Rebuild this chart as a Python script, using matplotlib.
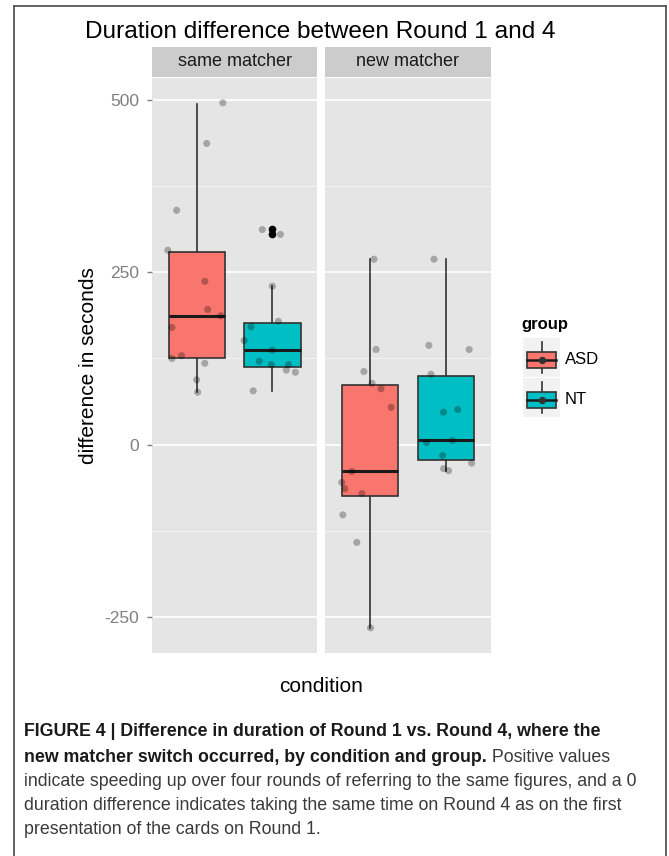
import matplotlib
matplotlib.use('Agg')
import matplotlib.pyplot as plt
from matplotlib import font_manager
from matplotlib.lines import Line2D
from matplotlib.patches import Rectangle
from matplotlib.text import Annotation

# ---------------- data ----------------
title = 'Duration difference between Round 1 and 4'
conditions = ['same matcher', 'new matcher']
groups = ['ASD', 'NT']
y_label = 'difference in seconds'
x_label = 'condition'
legend_title = 'group'
y_ticks = [-250, 0, 250, 500]
y_minor = [-125, 125, 375]

# box statistics: [lower whisker, Q1, median, Q3, upper whisker]
same_ASD_stats = [76, 125, 186, 280, 494]
same_NT_stats = [78, 112, 137, 177, 230]
new_ASD_stats = [-266, -74, -39, 87, 269]
new_NT_stats = [-38, -22, 6, 100, 269]
same_ASD_outliers = []
same_NT_outliers = [313, 305]
new_ASD_outliers = []
new_NT_outliers = []

# individual (jittered) observations
same_ASD_points = [496, 437, 340, 282, 237, 196, 187, 170, 125, 129, 118, 94, 76]
same_NT_points = [312, 305, 230, 179, 171, 151, 137, 121, 116, 116, 108, 105, 78]
new_ASD_points = [269, 138, 106, 89, 81, 54, -39, -55, -64, -71, -102, -142, -266]
new_NT_points = [269, 144, 138, 102, 47, 51, 3, 6, -16, -35, -38, -27]

# horizontal jitter of those observations (x units)
same_ASD_jitter = [0.19, 0.073, -0.146, -0.21, 0.059, 0.08, 0.175, -0.18, -0.18, -0.11, 0.059, 0.0, 0.007]
same_NT_jitter = [-0.073, 0.059, 0.0, 0.044, -0.154, -0.205, 0.0, -0.095, -0.007, 0.117, 0.102, 0.168, -0.139]
new_ASD_jitter = [0.029, 0.044, -0.044, 0.015, 0.08, 0.153, -0.131, -0.204, -0.182, -0.058, -0.196, -0.095, 0.004]
new_NT_jitter = [-0.087, -0.124, 0.167, -0.109, -0.018, 0.084, -0.142, 0.047, -0.025, -0.018, 0.018, 0.185]

caption_lines = [
    [('FIGURE 4 | Difference in duration of Round 1 vs. Round 4, where the', 'bold')],
    [('new matcher switch occurred, by condition and group.', 'bold'), (' Positive values', 'normal')],
    [('indicate speeding up over four rounds of referring to the same figures, and a 0', 'normal')],
    [('duration difference indicates taking the same time on Round 4 as on the first', 'normal')],
    [('presentation of the cards on Round 1.', 'normal')],
]

# ---------------- style ----------------
plt.rcParams['font.family'] = ['Liberation Sans', 'DejaVu Sans']
plt.rcParams['axes.unicode_minus'] = False
W, H = 669, 856
colors = ['#F8766D', '#00BFC4']
panel_bg = '#E5E5E5'
strip_bg = '#CCCCCC'
positions = [0.725, 1.275]
box_width = 0.41

fig = plt.figure(figsize=(W / 100, H / 100), dpi=100)
fig.patch.set_facecolor('white')


def fx(px):
    return px / W


def fy(py):
    return 1 - py / H


panel_px = [(152, 317), (325, 491)]
top_px, bot_px = 78, 653
ylim = (-302.5, 532)

stats_by_cond = [
    [(same_ASD_stats, same_ASD_outliers), (same_NT_stats, same_NT_outliers)],
    [(new_ASD_stats, new_ASD_outliers), (new_NT_stats, new_NT_outliers)],
]
points_by_cond = [
    [(same_ASD_points, same_ASD_jitter), (same_NT_points, same_NT_jitter)],
    [(new_ASD_points, new_ASD_jitter), (new_NT_points, new_NT_jitter)],
]

for ci, cond in enumerate(conditions):
    x0, x1 = panel_px[ci]
    ax = fig.add_axes([fx(x0), fy(bot_px), fx(x1 - x0), (bot_px - top_px) / H])
    ax.set_facecolor(panel_bg)
    ax.set_xlim(0.4, 1.6)
    ax.set_ylim(*ylim)
    for s in ax.spines.values():
        s.set_visible(False)
    ax.set_xticks([])
    ax.set_yticks(y_ticks)
    ax.set_yticks(y_minor, minor=True)
    ax.tick_params(axis='y', which='minor', length=0)
    ax.grid(True, which='major', axis='y', color='white', lw=1.2)
    ax.grid(True, which='minor', axis='y', color='#F4F4F4', lw=0.7)
    ax.set_axisbelow(True)
    if ci == 0:
        ax.tick_params(axis='y', which='major', length=3.5, width=1.0, color='#7F7F7F',
                       labelcolor='#7F7F7F', labelsize=12.5, pad=6)
    else:
        ax.tick_params(axis='y', which='major', length=0, labelleft=False)

    bstats = []
    for gi, g in enumerate(groups):
        st, outl = stats_by_cond[ci][gi]
        bstats.append(dict(whislo=st[0], q1=st[1], med=st[2], q3=st[3], whishi=st[4],
                           fliers=outl, label=g))
    bp = ax.bxp(bstats, positions=positions, widths=box_width, patch_artist=True,
                showcaps=False, manage_ticks=False,
                boxprops=dict(edgecolor='#333333', linewidth=1.2),
                whiskerprops=dict(color='#333333', linewidth=1.2),
                medianprops=dict(color='#1A1A1A', linewidth=2.2, solid_capstyle='butt'),
                flierprops=dict(marker='o', markerfacecolor='black', markeredgecolor='black',
                                markersize=4.5, linestyle='none'))
    for patch, c in zip(bp['boxes'], colors):
        patch.set_facecolor(c)

    for gi, g in enumerate(groups):
        vals, jit = points_by_cond[ci][gi]
        xs = [positions[gi] + j for j in jit]
        ax.scatter(xs, vals, s=26, color='black', alpha=0.28, edgecolors='none', zorder=5)

    # strip
    sax = fig.add_axes([fx(x0), fy(77), fx(x1 - x0), 30 / H])
    sax.set_facecolor(strip_bg)
    sax.set_xticks([])
    sax.set_yticks([])
    for s in sax.spines.values():
        s.set_visible(False)
    sax.text(0.5, 0.5, cond, ha='center', va='center', fontsize=13, color='#1A1A1A',
             transform=sax.transAxes)

# title and axis labels
fig.text(fx(320), fy(32), title, ha='center', va='center', fontsize=17.6, color='black')
fig.text(fx(88), fy(366), y_label, ha='center', va='center', rotation=90, fontsize=15,
         color='black')
fig.text(fx(321), fy(686), x_label, ha='center', va='center', fontsize=15, color='black')

# legend
fig.text(fx(521), fy(325), legend_title, ha='left', va='center', fontsize=12,
         fontweight='bold', color='black')
key_tops = [338, 378]
for gi, g in enumerate(groups):
    kt = key_tops[gi]
    kax = fig.add_axes([fx(523), fy(kt + 39), fx(37), 39 / H])
    kax.set_facecolor('#F2F2F2')
    kax.set_xlim(0, 1)
    kax.set_ylim(0, 1)
    kax.set_xticks([])
    kax.set_yticks([])
    for s in kax.spines.values():
        s.set_visible(False)
    kax.plot([0.5, 0.5], [0.1, 0.9], color='#333333', lw=1.2, zorder=1)
    kax.add_patch(Rectangle((0.1, 0.23), 0.8, 0.42, facecolor=colors[gi],
                            edgecolor='#333333', lw=1.2, zorder=2))
    kax.plot([0.1, 0.9], [0.44, 0.44], color='#1A1A1A', lw=1.8, zorder=3)
    kax.scatter([0.5], [0.44], s=18, color='#333333', zorder=4)
    fig.text(fx(565), fy(kt + 21), g, ha='left', va='center', fontsize=12, color='black')

# border around figure
border_color = '#555555'
fig.add_artist(Line2D([fx(14), fx(14)], [fy(6), 0], color=border_color, lw=1.3))
fig.add_artist(Line2D([fx(666), fx(666)], [fy(6), 0], color=border_color, lw=1.3))
fig.add_artist(Line2D([fx(14), fx(666)], [fy(6), fy(6)], color=border_color, lw=1.3))

# caption
names = {f.name for f in font_manager.fontManager.ttflist}
cap_family = ['Liberation Sans Narrow', 'Liberation Sans'] if 'Liberation Sans Narrow' in names \
    else ['Liberation Sans', 'DejaVu Sans']
renderer = fig.canvas.get_renderer()
probe = fig.text(0, 0, caption_lines[2][0][0], fontsize=14, family=cap_family)
wpx = probe.get_window_extent(renderer).width
probe.remove()
cap_size = 14 * 619 / wpx

line_y = [732, 757, 781, 805, 829]
for li, parts in enumerate(caption_lines):
    prev = None
    for text, weight in parts:
        col = '#1A1A1A' if weight == 'bold' else '#3A3A3A'
        if prev is None:
            prev = fig.text(fx(24), fy(line_y[li]), text, ha='left', va='bottom',
                            fontsize=cap_size, fontweight=weight, family=cap_family,
                            color=col)
            # shift so that line is vertically centred on line_y
            bb = prev.get_window_extent(renderer)
            prev.set_y(fy(line_y[li]) - bb.height / 2 / H)
        else:
            ann = Annotation(text, xy=(1, 0), xycoords=prev, ha='left', va='bottom',
                             fontsize=cap_size, fontweight=weight, family=cap_family,
                             color=col)
            fig.add_artist(ann)
            prev = ann

fig.savefig('out.png', dpi=100, facecolor='white')
